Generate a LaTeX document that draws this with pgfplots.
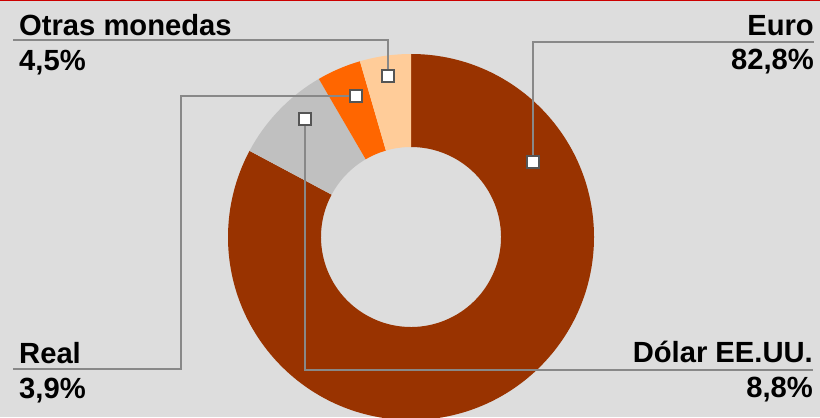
\documentclass[border=0pt]{standalone}
\usepackage{pgfplots}
\pgfplotsset{compat=1.18}
\usepackage{pgfplotstable}
\usepackage{fontspec}
\setmainfont{Liberation Sans}
\definecolor{bg}{HTML}{DDDDDD}
\definecolor{euro}{HTML}{993300}
\definecolor{dolar}{HTML}{C0C0C0}
\definecolor{real}{HTML}{FF6600}
\definecolor{otras}{HTML}{FFCC99}
\definecolor{leader}{HTML}{888888}
\definecolor{mk}{HTML}{555555}
\definecolor{topred}{HTML}{CC0000}

\pgfplotstableread{
name value
Euro 82.8
Dolar 8.8
Real 3.9
Otras 4.5
}\shares

\newcommand\lbl{\fontsize{29.3}{35}\selectfont\bfseries}

\begin{document}
\begin{tikzpicture}
\def\aA{90}
\pgfplotstablegetelem{0}{value}\of\shares \pgfmathsetmacro\aB{\aA-3.6*\pgfplotsretval}
\pgfplotstablegetelem{1}{value}\of\shares \pgfmathsetmacro\aC{\aB-3.6*\pgfplotsretval}
\pgfplotstablegetelem{2}{value}\of\shares \pgfmathsetmacro\aD{\aC-3.6*\pgfplotsretval}
\pgfplotstablegetelem{3}{value}\of\shares \pgfmathsetmacro\aE{\aD-3.6*\pgfplotsretval}
\def\R{183bp}
\def\r{90bp}
\def\dr{-93bp}
\begin{axis}[x=1bp, y=1bp, xmin=0, xmax=820, ymin=0, ymax=417,
  hide axis, clip=true]
  \fill[bg] (axis cs:0,0) rectangle (axis cs:820,417);
  % donut slices
  \fill[euro] (axis cs:411,180) ++(\aA:\R) arc[start angle=\aA, end angle=\aB, radius=\R] -- ++(\aB:\dr) arc[start angle=\aB, end angle=\aA, radius=\r] -- cycle;
  \fill[dolar] (axis cs:411,180) ++(\aB:\R) arc[start angle=\aB, end angle=\aC, radius=\R] -- ++(\aC:\dr) arc[start angle=\aC, end angle=\aB, radius=\r] -- cycle;
  \fill[real] (axis cs:411,180) ++(\aC:\R) arc[start angle=\aC, end angle=\aD, radius=\R] -- ++(\aD:\dr) arc[start angle=\aD, end angle=\aC, radius=\r] -- cycle;
  \fill[otras] (axis cs:411,180) ++(\aD:\R) arc[start angle=\aD, end angle=\aE, radius=\R] -- ++(\aE:\dr) arc[start angle=\aE, end angle=\aD, radius=\r] -- cycle;
  % leader lines
  \addplot[leader, line width=2bp, no markers] coordinates {(388,341) (388,377) (13,377)};
  \addplot[leader, line width=2bp, no markers] coordinates {(356,321) (181,321) (181,48) (13,48)};
  \addplot[leader, line width=2bp, no markers] coordinates {(305,298) (305,47) (813,47)};
  \addplot[leader, line width=2bp, no markers] coordinates {(533,255) (533,375) (814,375)};
  % markers
  \addplot[only marks, mark=square*, mark size=6bp,
    mark options={fill=white, draw=mk, line width=1.8bp}]
    coordinates {(388,341) (356,321) (305,298) (533,255)};
  % top red line
  \draw[topred, line width=2bp] (axis cs:0,416.5) -- (axis cs:820,416.5);
  % labels
  \node[anchor=base west, inner sep=0pt, font=\lbl] at (axis cs:19,382) {Otras monedas};
  \node[anchor=base west, inner sep=0pt, font=\lbl] at (axis cs:19,347) {4,5\%};
  \node[anchor=base east, inner sep=0pt, font=\lbl] at (axis cs:814,382) {Euro};
  \node[anchor=base east, inner sep=0pt, font=\lbl] at (axis cs:814,348) {82,8\%};
  \node[anchor=base west, inner sep=0pt, font=\lbl] at (axis cs:19,54) {Real};
  \node[anchor=base west, inner sep=0pt, font=\lbl] at (axis cs:19,19) {3,9\%};
  \node[anchor=base east, inner sep=0pt, font=\lbl] at (axis cs:813,55) {Dólar EE.UU.};
  \node[anchor=base east, inner sep=0pt, font=\lbl] at (axis cs:813,20) {8,8\%};
\end{axis}
\pgfresetboundingbox
\useasboundingbox (current axis.south west) rectangle (current axis.north east);
\end{tikzpicture}
\end{document}
